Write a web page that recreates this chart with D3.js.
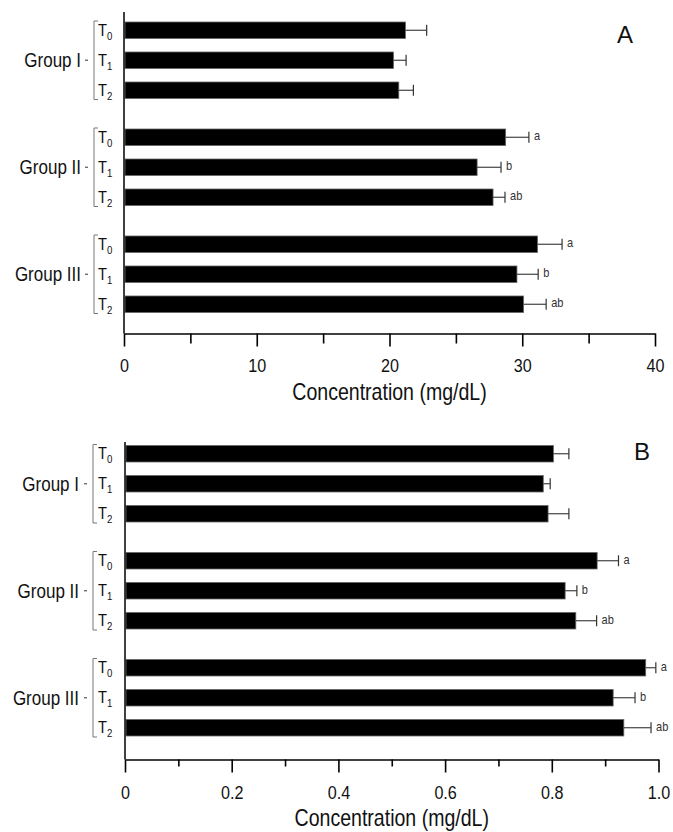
<!DOCTYPE html>
<html>
<head>
<meta charset="utf-8">
<script src="https://cdn.jsdelivr.net/npm/d3@7"></script>
<style>
  html, body { margin: 0; padding: 0; background: #fff; }
  svg { display: block; }
  text { font-family: "Liberation Sans", Arial, sans-serif; }
</style>
</head>
<body>
<svg id="chart" width="673" height="832"></svg>
<script>
// ---------------- data ----------------
const groups = ["Group I", "Group II", "Group III"];
const times = ["T0", "T1", "T2"];
const timeSubs = ["0", "1", "2"];

const meansA = [[21.2, 20.3, 20.7], [28.75, 26.6, 27.8], [31.15, 29.6, 30.1]];
const errA   = [[1.6, 0.95, 1.1], [1.75, 1.8, 0.9], [1.85, 1.6, 1.7]];
const lettersA = [["", "", ""], ["a", "b", "ab"], ["a", "b", "ab"]];
const majorTicksA = [0, 10, 20, 30, 40];
const minorTicksA = [5, 15, 25, 35];
const tickLabelsA = ["0", "10", "20", "30", "40"];

const meansB = [[0.803, 0.784, 0.793], [0.885, 0.825, 0.845], [0.976, 0.915, 0.935]];
const errB   = [[0.029, 0.013, 0.039], [0.040, 0.022, 0.039], [0.019, 0.041, 0.051]];
const lettersB = [["", "", ""], ["a", "b", "ab"], ["a", "b", "ab"]];
const majorTicksB = [0, 0.2, 0.4, 0.6, 0.8, 1.0];
const minorTicksB = [0.1, 0.3, 0.5, 0.7, 0.9];
const tickLabelsB = ["0", "0.2", "0.4", "0.6", "0.8", "1.0"];

const axisTitle = "Concentration (mg/dL)";

// ---------------- drawing ----------------
const svg = d3.select("#chart");
const SX = 0.85; // horizontal condensing to mimic a narrow face

function narrowText(parent, x, y, size, str, anchor, fill) {
  return parent.append("text")
    .attr("transform", `translate(${x},${y}) scale(${SX},1)`)
    .attr("text-anchor", anchor || "start")
    .attr("font-size", size)
    .attr("fill", fill || "#111")
    .text(str);
}

function panel(opts) {
  const g = svg.append("g");
  const x = d3.scaleLinear().domain(opts.domain).range(opts.xRange);
  const outer = d3.scaleBand().domain(groups)
    .range([opts.gTop, opts.gTop + 290.5]).paddingInner(0.285).paddingOuter(0);
  const inner = d3.scaleBand().domain(times).range([0, 76.5]).paddingInner(0.45).paddingOuter(0);

  const rows = [];
  groups.forEach((gr, gi) => times.forEach((t, ti) => rows.push({
    gr, t, gi, ti, v: opts.means[gi][ti], e: opts.errs[gi][ti], l: opts.letters[gi][ti]
  })));
  const yTop = d => outer(d.gr) + inner(d.t);
  const yMid = d => yTop(d) + inner.bandwidth() / 2;

  // bars
  g.selectAll("rect.bar").data(rows).enter().append("rect")
    .attr("class", "bar")
    .attr("x", x(0) + 1)
    .attr("y", yTop)
    .attr("width", d => x(d.v) - x(0) - 1)
    .attr("height", inner.bandwidth())
    .attr("fill", "#000")
    .attr("stroke", "#666").attr("stroke-width", 0.8);

  // error bars
  g.selectAll("line.err").data(rows).enter().append("line")
    .attr("x1", d => x(d.v)).attr("x2", d => x(d.v + d.e))
    .attr("y1", yMid).attr("y2", yMid)
    .attr("stroke", "#333").attr("stroke-width", 1.1);
  g.selectAll("line.cap").data(rows).enter().append("line")
    .attr("x1", d => x(d.v + d.e)).attr("x2", d => x(d.v + d.e))
    .attr("y1", d => yMid(d) - 5.5).attr("y2", d => yMid(d) + 5.5)
    .attr("stroke", "#333").attr("stroke-width", 1.2);

  // significance letters
  rows.filter(d => d.l).forEach(d => {
    narrowText(g, x(d.v + d.e) + 5, yMid(d) + 3, 13, d.l, "start", "#333");
  });

  // y axis line
  g.append("line")
    .attr("x1", x(0)).attr("x2", x(0))
    .attr("y1", opts.axisTop).attr("y2", opts.axisY)
    .attr("stroke", "#000").attr("stroke-width", 1.5);

  // x axis (major)
  const ax = g.append("g").attr("transform", `translate(0,${opts.axisY})`)
    .call(d3.axisBottom(x).tickValues(opts.major)
      .tickFormat((d, i) => opts.tickLabels[i])
      .tickSize(13).tickSizeOuter(0).tickPadding(opts.tickPad));
  ax.select(".domain").attr("stroke", "#000").attr("stroke-width", 1.5);
  ax.selectAll(".tick line").attr("stroke", "#000").attr("stroke-width", 1.6);
  ax.selectAll(".tick text")
    .attr("font-family", "Liberation Sans, Arial, sans-serif")
    .attr("font-size", 19).attr("fill", "#111")
    .attr("transform", `scale(${SX},1)`);
  // minor ticks
  const mx = g.append("g").attr("transform", `translate(0,${opts.axisY})`)
    .call(d3.axisBottom(x).tickValues(opts.minor).tickFormat("").tickSize(opts.minorSize).tickSizeOuter(0));
  mx.select(".domain").remove();
  mx.selectAll(".tick line").attr("stroke", "#000").attr("stroke-width", 1.6);

  // axis title
  narrowText(g, (opts.xRange[0] + opts.xRange[1]) / 2, opts.titleY, 23, axisTitle, "middle");

  // treatment labels
  rows.forEach(d => {
    const t = g.append("text")
      .attr("transform", `translate(98,${yMid(d) + 5.5}) scale(0.92,1)`)
      .attr("font-size", 16).attr("fill", "#111");
    t.append("tspan").text("T");
    t.append("tspan").attr("font-size", 10.5).attr("dy", 4).text(timeSubs[d.ti]);
  });

  // group brackets and labels
  groups.forEach(gr => {
    const y0 = outer(gr) - 1, y1 = outer(gr) + outer.bandwidth() + 1;
    const ym = (y0 + y1) / 2;
    g.append("path")
      .attr("d", `M${opts.brX + 4},${y0} H${opts.brX} V${y1} H${opts.brX + 4}`)
      .attr("fill", "none").attr("stroke", "#777").attr("stroke-width", 1);
    g.append("line").attr("x1", opts.brX - 9).attr("x2", opts.brX - 6)
      .attr("y1", ym).attr("y2", ym).attr("stroke", "#555").attr("stroke-width", 1.2);
    narrowText(g, opts.grRight, ym + 7, 20, gr, "end");
  });

  // panel letter
  g.append("text")
    .attr("x", opts.letterX).attr("y", opts.letterY)
    .attr("text-anchor", "middle")
    .attr("font-size", 24).attr("fill", "#111")
    .text(opts.letter);
}

panel({
  domain: [0, 40], xRange: [124, 655],
  gTop: 22, axisTop: 12, axisY: 333.5,
  means: meansA, errs: errA, letters: lettersA,
  major: majorTicksA, minor: minorTicksA, tickLabels: tickLabelsA, minorSize: 10,
  tickPad: 12, titleY: 400, brX: 94, grRight: 81,
  letter: "A", letterX: 625, letterY: 43
});

panel({
  domain: [0, 1], xRange: [125, 658.5],
  gTop: 445.5, axisTop: 442, axisY: 759.5,
  means: meansB, errs: errB, letters: lettersB,
  major: majorTicksB, minor: minorTicksB, tickLabels: tickLabelsB, minorSize: 7,
  tickPad: 13, titleY: 826, brX: 93, grRight: 79,
  letter: "B", letterX: 642, letterY: 460
});
</script>
</body>
</html>
